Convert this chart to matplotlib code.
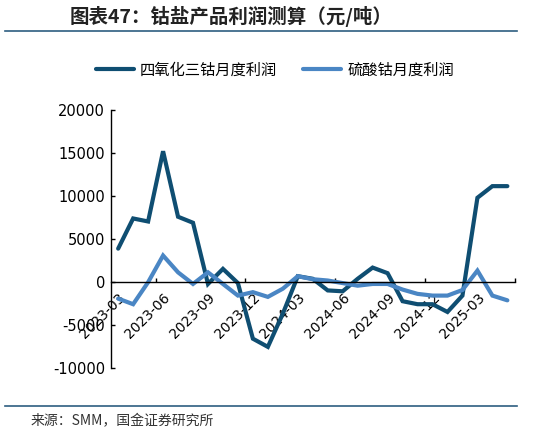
import numpy as np
import matplotlib.pyplot as plt
from matplotlib.lines import Line2D

plt.rcParams['font.family'] = ['Noto Sans CJK SC', 'DejaVu Sans']

# 月度数据 2023-03 ~ 2025-05
months = ['2023-03', '2023-04', '2023-05', '2023-06', '2023-07', '2023-08', '2023-09',
          '2023-10', '2023-11', '2023-12', '2024-01', '2024-02', '2024-03', '2024-04',
          '2024-05', '2024-06', '2024-07', '2024-08', '2024-09', '2024-10', '2024-11',
          '2024-12', '2025-01', '2025-02', '2025-03', '2025-04', '2025-05']
co3o4_profit = [3900, 7400, 7050, 15200, 7600, 6900, -200, 1550, -100, -6550, -7500,
                -3650, 700, 400, -950, -1050, 400, 1700, 1050, -2200, -2550, -2550,
                -3450, -1550, 9800, 11150, 11150]
coso4_profit = [-1900, -2550, 0, 3100, 1150, -200, 1150, -200, -1550, -1150, -1700,
                -750, 700, 350, 200, -100, -400, -200, -200, -850, -1350, -1550,
                -1550, -900, 1350, -1550, -2100]
series_names = ['四氧化三钴月度利润', '硫酸钴月度利润']
yticks = [-10000, -5000, 0, 5000, 10000, 15000, 20000]

dark = '#0f4e72'
light = '#4a86c4'

fig = plt.figure(figsize=(5.59, 4.36), dpi=100)
ax = fig.add_axes([0.198, 0.155, 0.723, 0.593])

x = np.arange(len(months))
ax.plot(x, co3o4_profit, color=dark, lw=3.0, solid_capstyle='round', solid_joinstyle='miter')
ax.plot(x, coso4_profit, color=light, lw=3.0, solid_capstyle='round', solid_joinstyle='miter')

ax.set_xlim(-0.5, len(months) - 0.5)
ax.set_ylim(-10000, 20000)
ax.set_yticks(yticks)
ax.set_yticklabels([str(v) for v in yticks], family='DejaVu Sans', fontsize=10.5)
ax.tick_params(axis='y', direction='in', length=3, width=1, pad=4)

for s in ['top', 'right']:
    ax.spines[s].set_visible(False)
ax.spines['left'].set_linewidth(1)
ax.spines['bottom'].set_position(('data', 0))
ax.spines['bottom'].set_linewidth(1)

# 刻度线在类目边界，标签在类目中心
ax.set_xticks(np.arange(2.5, len(months), 6))
ax.set_xticklabels([])
ax.tick_params(axis='x', which='major', direction='in', length=3, width=1)
ax.set_xticks(x[::3], minor=True)
ax.set_xticklabels(months[::3], minor=True, rotation=45, ha='right', va='top',
                   rotation_mode='anchor', family='DejaVu Sans', fontsize=10)
ax.tick_params(axis='x', which='minor', length=0, pad=6)

handles = [Line2D([], [], color=dark, lw=3.0, solid_capstyle='round'),
           Line2D([], [], color=light, lw=3.0, solid_capstyle='round')]
fig.legend(handles, series_names, loc='center', bbox_to_anchor=(0.492, 0.839), ncol=2,
           frameon=False, fontsize=11, handlelength=2.5, handletextpad=0.4,
           columnspacing=1.7)

fig.text(70 / 559, 1 - 16.5 / 436, '图表47：钴盐产品利润测算（元/吨）', fontsize=14,
         fontweight='bold', ha='left', va='center', color='#222222')
fig.add_artist(Line2D([5 / 559, 517 / 559], [1 - 31 / 436, 1 - 31 / 436], color='#2e5e80', lw=1.2))
fig.add_artist(Line2D([5 / 559, 517 / 559], [1 - 405.5 / 436, 1 - 405.5 / 436], color='#2e5e80', lw=1.2))
fig.text(31 / 559, 1 - 421 / 436, '来源：SMM，国金证券研究所', fontsize=10, ha='left',
         va='center', color='#333333')

fig.savefig('out.png', dpi=100)
